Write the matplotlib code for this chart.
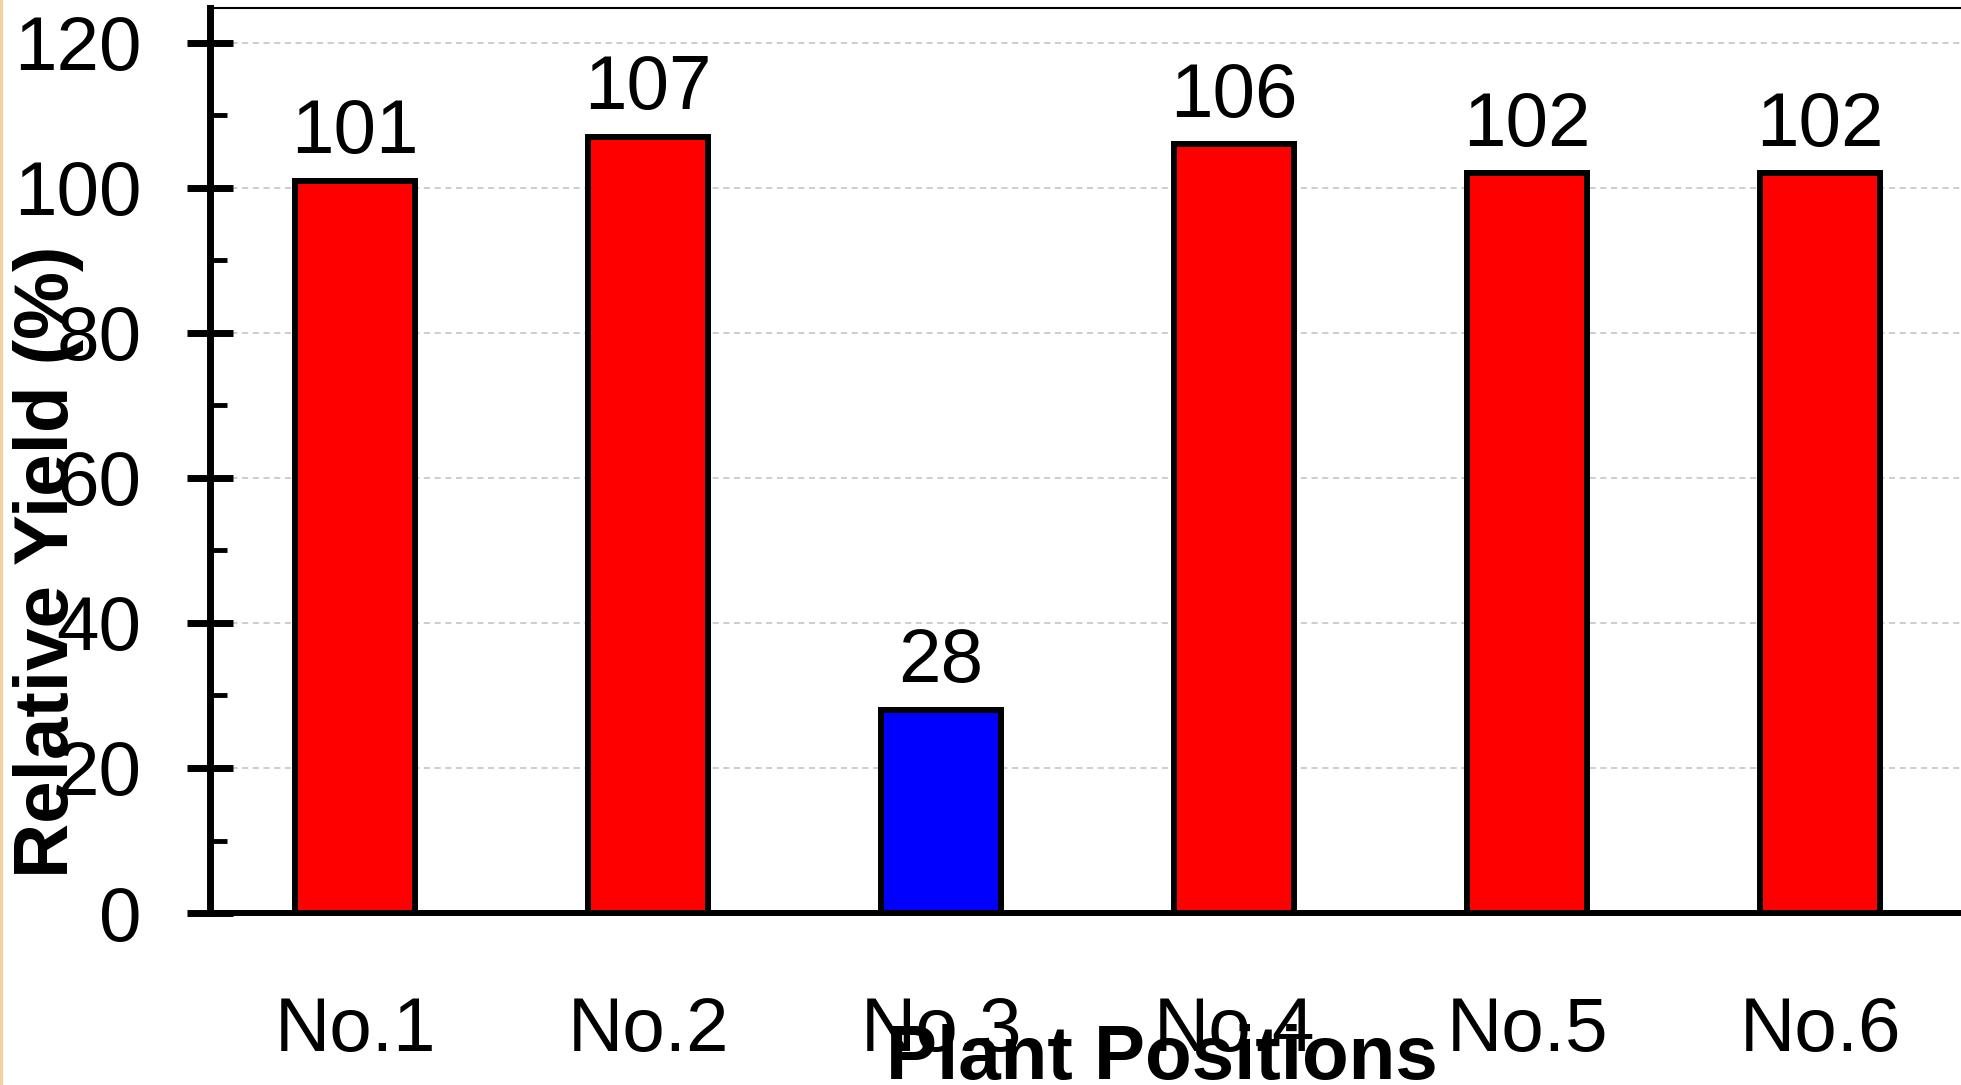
import matplotlib
matplotlib.use("Agg")
import matplotlib.pyplot as plt
from matplotlib.patches import Rectangle
from matplotlib.ticker import MultipleLocator

# data
positions = ['No.1', 'No.2', 'No.3', 'No.4', 'No.5', 'No.6']
relative_yield = [101, 107, 28, 106, 102, 102]
bar_colors = ['#ff0000', '#ff0000', '#0000ff', '#ff0000', '#ff0000', '#ff0000']
y_ticks = [0, 20, 40, 60, 80, 100, 120]

plt.rcParams['font.family'] = ['Liberation Sans', 'DejaVu Sans']

fig = plt.figure(figsize=(19.61, 10.85), dpi=100)
ax = fig.add_axes([0.1071, 0.1585, 0.8929, 0.8341])

x = list(range(len(positions)))
ax.bar(x, relative_yield, width=0.41, color=bar_colors,
       edgecolor='black', linewidth=4.3, zorder=3)

# value labels above bars
for xi, v in zip(x, relative_yield):
    ax.annotate(str(v), (xi, v), xytext=(0, 20), textcoords='offset points',
                ha='center', va='baseline', fontsize=55, zorder=4)

ax.set_xlim(-0.495, 5.48)
ax.set_ylim(0, 124.8)

ax.set_yticks(y_ticks)
ax.yaxis.set_minor_locator(MultipleLocator(10))
ax.set_xticks(x)
ax.set_xticklabels(positions)

ax.tick_params(axis='y', which='major', direction='inout', length=33, width=5,
               pad=33, labelsize=55)
ax.tick_params(axis='y', which='minor', direction='in', length=12, width=3.5)
ax.tick_params(axis='x', length=0, pad=60, labelsize=55)

ax.yaxis.grid(True, which='major', linestyle=(0, (4, 3)), color='#c0c0c0',
              linewidth=1.1, zorder=0)
ax.set_axisbelow(True)

ax.spines['left'].set_linewidth(5)
ax.spines['bottom'].set_linewidth(4.3)
ax.spines['top'].set_linewidth(1.5)
ax.spines['right'].set_visible(False)

# axis titles
fig.text(0.0245, 0.482, 'Relative Yield (%)', rotation=90, ha='center',
         va='center', fontsize=55, fontweight='bold')
fig.text(0.5925, 0.0055, 'Plant Positions', ha='center', va='baseline',
         fontsize=55, fontweight='bold')

# thin tan strip on the left edge
fig.patches.append(Rectangle((0, 0), 2 / 1961, 1, transform=fig.transFigure,
                             color='#f0d2a5', zorder=5))

fig.savefig('out.png', dpi=100)
